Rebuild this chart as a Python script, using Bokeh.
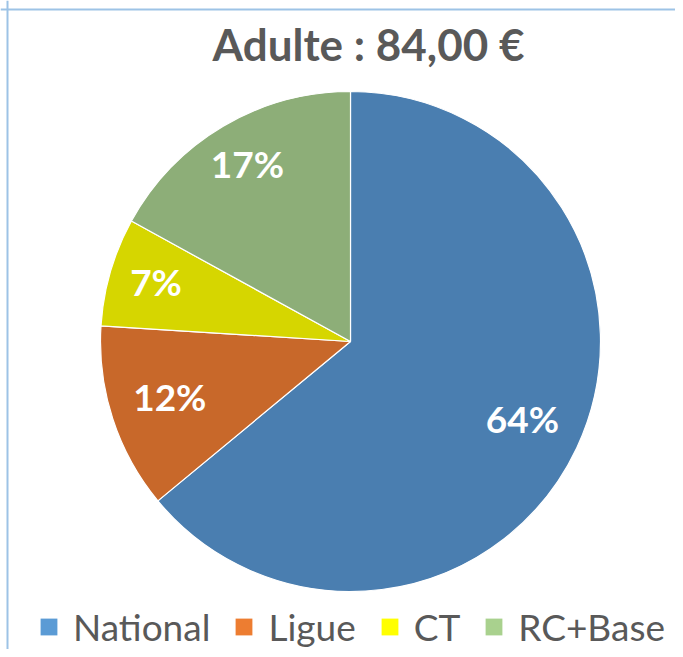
import math
from bokeh.plotting import figure
from bokeh.models import Range1d, Span, Legend, LegendItem, ColumnDataSource
from bokeh.core.properties import value
from bokeh.embed import file_html
from bokeh.resources import INLINE

# ---- data ----
categories = ["National", "Ligue", "CT", "RC+Base"]
shares = [64, 12, 7, 17]
title_text = "Adulte : 84,00 €"
pie_colors = ["#4A7EB0", "#C8682A", "#D6D600", "#8DAE78"]
legend_colors = ["#5B9BD5", "#ED7D31", "#FFFF00", "#A9D18E"]
label_radius = [0.76, 0.76, 0.81, 0.81]   # fraction of pie radius (style)

W, H = 675, 649
p = figure(width=W, height=H, output_backend="svg", toolbar_location=None,
           x_range=Range1d(0, W), y_range=Range1d(0, H),
           min_border=0, outline_line_color=None)
p.axis.visible = False
p.grid.visible = False
p.background_fill_color = "white"
p.border_fill_color = "white"

# frame (left and top visible in reference)
p.add_layout(Span(location=7, dimension="height", line_color="#9DC3E6", line_width=2))
p.add_layout(Span(location=H - 9, dimension="width", line_color="#9DC3E6", line_width=2))

cx, cy, r = 350, H - 341, 250
total = sum(shares)
starts, ends, lx, ly, labels = [], [], [], [], []
cum = 0
for s, f in zip(shares, label_radius):
    a0 = math.pi / 2 - 2 * math.pi * cum / total
    cum += s
    a1 = math.pi / 2 - 2 * math.pi * cum / total
    starts.append(a0)
    ends.append(a1)
    mid = (a0 + a1) / 2
    lx.append(cx + f * r * math.cos(mid))
    ly.append(cy + f * r * math.sin(mid))
    labels.append(f"{round(100 * s / total)}%")

src = ColumnDataSource(dict(cat=categories, start=starts, end=ends,
                            color=pie_colors, lx=lx, ly=ly, label=labels))
p.wedge(x=cx, y=cy, radius=r, start_angle="start", end_angle="end",
        direction="clock", fill_color="color", line_color="white",
        line_width=1.2, source=src)

p.text(x="lx", y="ly", text="label", source=src, text_color="white",
       text_font=value("Lato"), text_font_style="bold", text_font_size="37px",
       text_align="center", text_baseline="middle", y_offset=-4)

p.text(x=[368], y=[H - 43], text=[title_text], text_color="#595959",
       text_font=value("Lato"), text_font_style="bold", text_font_size="44px",
       text_align="center", text_baseline="middle")

# legend with off-screen dummy renderers in legend colors
items = []
for name, col in zip(categories, legend_colors):
    rr = p.rect(x=[-100], y=[-100], width=1, height=1, fill_color=col, line_color=None)
    items.append(LegendItem(label=name, renderers=[rr]))
legend = Legend(items=items, orientation="horizontal", location=(38, 0),
                padding=0, margin=0, spacing=23, label_standoff=14,
                glyph_width=21, glyph_height=21, border_line_color=None,
                background_fill_alpha=0, label_text_font="Lato",
                label_text_font_size="37px", label_text_color="#595959")
p.add_layout(legend, "center")

open("out.html", "w").write(file_html(p, INLINE))
